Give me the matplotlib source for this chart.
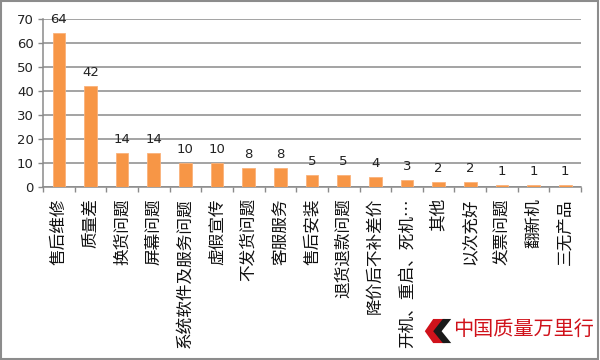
import matplotlib
matplotlib.use("Agg")
import matplotlib.pyplot as plt
from matplotlib.patches import Rectangle, Polygon
import numpy as np

plt.rcParams['font.family'] = ['Noto Sans CJK SC', 'DejaVu Sans']

categories = ["售后维修", "质量差", "换货问题", "屏幕问题", "系统软件及服务问题",
              "虚假宣传", "不发货问题", "客服服务", "售后安装", "退货退款问题",
              "降价后不补差价", "开机、重启、死机…", "其他", "以次充好",
              "发票问题", "翻新机", "三无产品"]
counts = [64, 42, 14, 14, 10, 10, 8, 8, 5, 5, 4, 3, 2, 2, 1, 1, 1]
y_ticks = [0, 10, 20, 30, 40, 50, 60, 70]

GRID = "#8a8a8a"
BAR = "#f79646"
NUM_FONT = ["DejaVu Sans"]

fig = plt.figure(figsize=(6, 3.6), dpi=100)
ax = fig.add_axes([0.0717, 0.4806, 0.8967, 0.4667])

x = np.arange(len(categories))
ax.bar(x, counts, width=0.4, color=BAR, edgecolor="#fab27a", linewidth=0.6, zorder=3)

# value labels above bars
for xi, v in zip(x, counts):
    ax.annotate(str(v), (xi, v), xytext=(0, 5), textcoords="offset points",
                ha="center", va="bottom", fontsize=9.5, color="#222222",
                family=NUM_FONT)

ax.set_xlim(-0.5, len(categories) - 0.5)
ax.set_ylim(0, 70)
ax.set_yticks(y_ticks)
ax.set_yticklabels([str(t) for t in y_ticks], family=NUM_FONT, fontsize=9.5,
                   color="#222222")
ax.yaxis.grid(True, color=GRID, linewidth=1.1)
ax.set_axisbelow(True)

ax.set_xticks(x)
ax.set_xticklabels(categories, rotation=90, fontsize=12, color="#111111")
ax.set_xticks(np.arange(-0.5, len(categories), 1), minor=True)
ax.tick_params(axis="x", which="major", length=0, pad=8)
ax.tick_params(axis="x", which="minor", length=3.6, color=GRID, width=1)
ax.tick_params(axis="y", length=3.6, color=GRID, width=1, pad=3)

for s in ("top", "right"):
    ax.spines[s].set_visible(False)
for s in ("left", "bottom"):
    ax.spines[s].set_color(GRID)
    ax.spines[s].set_linewidth(1.1)

# logo in the lower right corner
fig.patches.append(Polygon([(0.722, 0.114), (0.742, 0.114), (0.728, 0.080),
                            (0.742, 0.047), (0.722, 0.047), (0.708, 0.080)],
                           closed=True, transform=fig.transFigure,
                           facecolor="#d0121b", edgecolor="none"))
fig.patches.append(Polygon([(0.738, 0.114), (0.752, 0.114), (0.736, 0.080),
                            (0.752, 0.047), (0.738, 0.047), (0.722, 0.080)],
                           closed=True, transform=fig.transFigure,
                           facecolor="#1a1a1a", edgecolor="none"))
fig.text(0.755, 0.085, "中国质量万里行", fontsize=14.5, color="#d0121b",
         ha="left", va="center")

# outer frame
fig.patches.append(Rectangle((0.002, 0.003), 0.995, 0.993, transform=fig.transFigure,
                             fill=False, edgecolor="#8c8c8c", linewidth=1.5))

fig.savefig("out.png", dpi=100)
